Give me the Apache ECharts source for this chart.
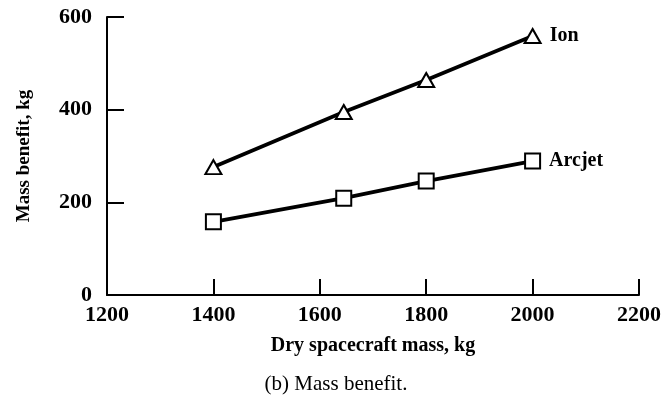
<!DOCTYPE html>
<html><head><meta charset="utf-8">
<script src="https://cdn.jsdelivr.net/npm/echarts@6/dist/echarts.min.js"></script>
<style>html,body{margin:0;padding:0;background:#fff;}#c{width:672px;height:398px;}</style>
</head><body><div id="c"></div>
<script>
const xValues = [1400, 1645, 1800, 2000];
const ionValues = [276, 395, 464, 559];
const arcjetValues = [158, 209, 246, 289];
const seriesNames = ['Ion', 'Arcjet'];
const xTicks = [1200, 1400, 1600, 1800, 2000, 2200];
const yTicks = [0, 200, 400, 600];

const FONT = '"Liberation Serif", "DejaVu Serif", serif';
const chart = echarts.init(document.getElementById('c'));
function mk(name, vals, symbol, size) {
  return {
    name: name, type: 'line', data: xValues.map((x, i) => [x, vals[i]]),
    symbol: symbol, symbolSize: size,
    lineStyle: {color: '#000', width: 3.8},
    itemStyle: {color: '#fff', borderColor: '#000', borderWidth: 2},
    z: 3,
    label: {
      show: true, position: 'right', distance: 8,
      formatter: p => p.dataIndex === vals.length - 1 ? name : '',
      color: '#000', fontFamily: FONT, fontSize: 20, fontWeight: 'bold'
    },
    animation: false
  };
}
chart.setOption({
  backgroundColor: '#fff',
  animation: false,
  grid: {left: 107, right: 33, top: 17, bottom: 103},
  xAxis: {
    type: 'value', min: 1200, max: 2200, interval: 200,
    name: 'Dry spacecraft mass, kg', nameLocation: 'middle', nameGap: 41,
    nameTextStyle: {color: '#000', fontFamily: FONT, fontSize: 20, fontWeight: 'bold'},
    axisLine: {lineStyle: {color: '#000', width: 2}},
    axisTick: {inside: true, length: 16, lineStyle: {color: '#000', width: 2}},
    axisLabel: {color: '#000', fontFamily: FONT, fontSize: 22, fontWeight: 'bold', margin: 9,
      formatter: v => xTicks.includes(v) ? String(v) : ''},
    splitLine: {show: false}
  },
  yAxis: {
    type: 'value', min: 0, max: 600, interval: 200,
    name: 'Mass benefit, kg', nameLocation: 'middle', nameGap: 73,
    nameTextStyle: {color: '#000', fontFamily: FONT, fontSize: 19, fontWeight: 'bold'},
    axisLine: {show: true, lineStyle: {color: '#000', width: 2}},
    axisTick: {show: true, inside: true, length: 17, lineStyle: {color: '#000', width: 2}},
    axisLabel: {color: '#000', fontFamily: FONT, fontSize: 22, fontWeight: 'bold', margin: 15,
      formatter: v => yTicks.includes(v) ? String(v) : ''},
    splitLine: {show: false}
  },
  series: [
    mk(seriesNames[0], ionValues, 'triangle', [16, 14]),
    mk(seriesNames[1], arcjetValues, 'rect', [15, 15])
  ],
  graphic: [{
    type: 'text', left: 'center', top: 374,
    style: {text: '(b) Mass benefit.', fill: '#000', font: '21px ' + FONT}
  }]
});
</script></body></html>
